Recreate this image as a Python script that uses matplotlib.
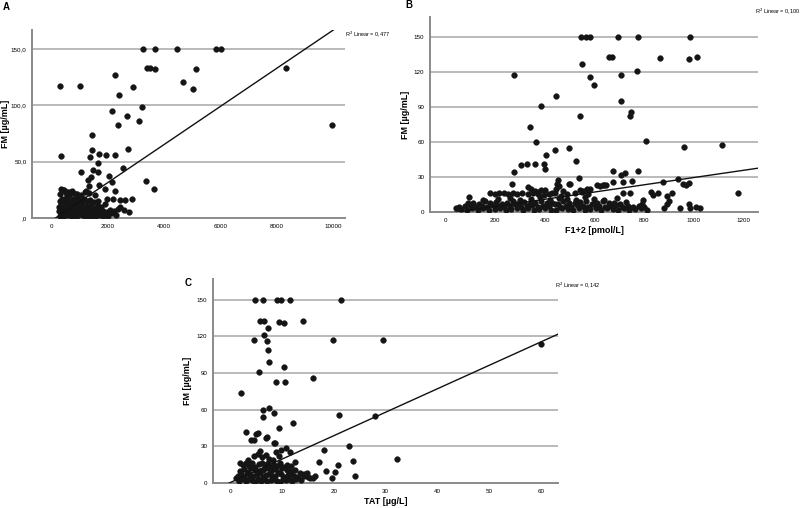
import matplotlib
matplotlib.use("Agg")
import matplotlib.pyplot as plt
import numpy as np

plt.rcParams['font.family'] = ['Liberation Sans', 'DejaVu Sans']

# ---------------- Panel A: FM vs x (no x title) ----------------
a_out_x = [3270, 3705, 4472, 5841, 6042, 3387, 3528, 3682, 5133, 8319, 2266, 330, 1027,
           2915, 4685, 5039, 2407, 3210, 2148, 2679, 3115, 2384, 9959, 1454, 1465, 2714,
           1690, 1940, 2254, 344, 1392, 1655, 2542, 1053, 1667, 3369, 3652, 2046, 2152,
           1478, 1323, 1430, 1241, 1359, 1702, 1926, 2270, 1975, 2200, 2450, 2620, 2860,
           2450, 2600, 2750, 344, 450, 560, 638, 790, 911]
a_out_y = [150, 150, 150, 150, 150, 133, 133, 132, 132, 133, 127, 117, 117,
           116, 121, 115, 109, 99, 95, 91, 86, 83, 83, 74, 60, 61,
           57, 56, 56, 55, 54, 49, 44, 41, 41, 33, 25.5, 37, 32,
           43, 34, 36, 24, 28.5, 29, 25.5, 24, 16.6, 16.6, 16, 16, 16.6,
           9.5, 7, 5.6, 26, 24.5, 23.4, 23, 22, 21.5]
a_cl_x = [310, 380, 450, 520, 600, 680, 760, 850, 930, 1010, 1100, 1190, 1280, 1370, 1460,
          1550, 1640, 1740, 1830, 1920, 2010, 2150, 2300,
          290, 360, 430, 500, 570, 650, 720, 800, 880, 960, 1040, 1120, 1210, 1300, 1390,
          1480, 1570, 1660, 1760, 1860, 1970, 2100, 2240, 2380,
          300, 350, 420, 490, 560, 630, 700, 780, 860, 940, 1020, 1110, 1200, 1290, 1380,
          1470, 1560, 1660, 1780, 1900,
          320, 400, 470, 540, 610, 690, 770, 850, 930, 1010, 1090, 1180, 1280, 1400, 1520, 1650,
          330, 410, 520, 640, 760, 900, 1060, 1200, 1350, 1550]
a_cl_y = [2, 3, 1.5, 4, 2.5, 3.5, 1, 3, 2, 4.5, 2.5, 1.5, 3, 2, 4,
          1, 3, 2.5, 1.5, 3, 2, 4, 3,
          6, 5, 7.5, 6, 5.5, 8, 6.5, 5, 7, 6, 8, 5.5, 7, 6, 5,
          7.5, 6, 5, 7, 6, 5.5, 7, 6, 8,
          10, 12, 9, 11, 13, 10, 12, 9.5, 11, 13, 10, 12, 9, 11, 10,
          13, 9, 11, 10, 12,
          15, 17, 14, 18, 16, 14.5, 17, 15, 19, 16, 14, 17, 15, 16, 14, 15,
          21, 25, 22, 20, 24, 21, 20, 23, 22, 20]
a_fit = (-2.7, 0.01695)
a_r2 = "R$^2$ Linear = 0,477"

# ---------------- Panel B: FM vs F1+2 ----------------
b_out_x = [546, 565, 582, 694, 777, 983, 550, 660, 671, 862, 980, 1015, 274, 581, 707, 773,
           597, 445, 384, 708, 540, 749, 742, 340, 364, 806, 499, 442, 1113, 962, 405, 360,
           327, 304, 398, 402, 524, 277, 676, 706, 722, 777, 539, 937, 499, 267, 750, 714,
           673, 454, 448, 640, 648, 982, 875, 958, 968, 1177, 610, 622, 635, 582, 716, 743,
           829, 857, 837, 911, 891, 899, 891, 880, 945, 982, 985, 1008, 1025, 797, 790, 95]
b_out_y = [150, 150, 150, 150, 150, 150, 127, 133, 133, 132, 131, 133, 117, 116, 117, 121,
           109, 99, 91, 95, 82, 86, 82, 73, 60, 61, 55, 53, 57, 56, 49, 41,
           41, 40, 41, 37, 44, 34, 35, 32, 33, 35, 29, 28, 24, 24, 26.8, 25.4,
           26, 27, 24, 23, 23, 25, 25.4, 23.7, 22.9, 16.5, 23, 22.5, 23.5, 19.7, 16, 16,
           16.9, 16, 14.3, 16, 14, 9.4, 6.6, 3.2, 3.2, 6.9, 3.7, 4.6, 3.2, 10.3, 6.9, 12.6]
b_cl_x = [40, 62, 85, 108, 130, 152, 175, 197, 220, 243, 265, 288, 310, 333, 356, 378, 401,
          424, 446, 469, 492, 514, 537, 560, 582, 605, 628, 650, 673, 696, 718, 741, 764, 786, 812,
          55, 78, 100, 122, 145, 168, 190, 213, 236, 258, 281, 304, 326, 349, 371, 394, 417,
          439, 462, 485, 507, 530, 553, 575, 598, 620, 643, 666, 688, 711, 734, 757, 780, 800,
          90, 112, 135, 158, 180, 203, 226, 248, 271, 294, 316, 339, 362, 384, 407, 430, 452,
          475, 498, 520, 543, 566, 588, 611, 634, 657, 680, 703, 726,
          150, 210, 260, 300, 345, 380, 420, 455, 490, 525, 560, 600, 640, 690,
          180, 198, 216, 234, 252, 270, 288, 306, 330, 352, 372, 395, 418, 440, 465, 490, 520,
          548, 575,
          330, 345, 360, 372, 385, 400, 430, 445, 455, 475, 500, 540, 555, 570]
b_cl_y = [3, 2.5, 1.5, 3, 2, 3.5, 1.5, 2.5, 3, 1.5, 2.5, 3.5, 2, 3, 1.5, 2.5, 3,
          2, 1.5, 3, 2.5, 2, 3.5, 1.5, 2.5, 3, 2, 3.5, 2.5, 1.5, 3, 2, 2.5, 3.5, 2,
          4.5, 5, 6, 4, 5.5, 4.5, 6, 5, 4, 5.5, 6.5, 4.5, 5, 6, 4, 5.5, 5,
          6.5, 4.5, 5.5, 4, 6, 5, 4.5, 6.5, 5, 4, 5.5, 6, 4.5, 5, 4, 5.5, 4.5,
          7.5, 8, 7, 9, 7.5, 8.5, 7, 8, 9.5, 7.5, 8.5, 7, 8, 9.5, 7.5, 8, 7,
          9, 8, 7.5, 8.5, 9, 7, 8, 9.5, 7.5, 8, 7, 8.5,
          10.5, 11, 12, 10, 11.5, 13, 10.5, 12, 11, 10, 12.5, 11, 10.5, 12,
          16, 15.5, 16, 16.5, 15.5, 16, 15, 16, 15.5, 16, 15, 14.5, 15.5, 16, 14, 15, 16,
          17, 15,
          21, 19.5, 18, 17.5, 18.5, 19, 16.5, 20, 22, 18, 24, 19, 18, 20]
b_fit = (-1.5, 0.031)
b_r2 = "R$^2$ Linear = 0,100"

# ---------------- Panel C: FM vs TAT ----------------
c_out_x = [4.8, 6.3, 9.1, 9.8, 11.6, 21.4, 5.7, 6.6, 9.5, 10.4, 14.0, 7.3, 6.5, 4.6, 7.1,
           19.8, 29.6, 60.0, 7.4, 7.5, 10.5, 5.5, 16.0, 8.9, 10.6, 2.1, 6.4, 7.5, 6.3, 8.5,
           12.2, 21.1, 27.9, 3.0, 5.3, 5.0, 9.5, 4.0, 4.6, 7.0, 7.2, 8.4, 8.6, 10.8, 11.5,
           9.9, 18.1, 23.0, 12.5, 17.1, 23.7, 32.2, 20.8, 18.5, 20.3, 19.6, 24.2, 16.4, 14.8,
           13.5, 14.2, 15.0, 15.5, 16.0]
c_out_y = [150, 150, 150, 150, 150, 150, 133, 133, 132, 131, 133, 127, 121, 117, 116,
           117, 117, 114, 109, 99, 95, 91, 86, 83, 83, 74, 60, 61, 54, 57,
           49, 56, 55, 42, 41, 40.5, 45, 35, 35.5, 37, 38, 33, 32.5, 29, 25,
           27, 27, 30, 17, 17, 18, 19.5, 15, 10, 8.7, 4, 5.4, 5.4, 8,
           8, 6, 5, 4, 4.5]
c_cl_x = [1.2, 1.8, 2.4, 3.0, 3.6, 4.2, 4.8, 5.4, 6.0, 6.6, 7.2, 7.8, 8.4, 9.0, 9.6, 10.2,
          10.8, 11.4, 12.0, 12.8, 13.6,
          1.5, 2.1, 2.7, 3.3, 3.9, 4.5, 5.1, 5.7, 6.3, 6.9, 7.5, 8.1, 8.7, 9.3, 9.9, 10.5,
          11.1, 11.7, 12.4, 13.2, 14.2,
          1.9, 2.6, 3.4, 4.1, 4.9, 5.6, 6.4, 7.1, 7.9, 8.6, 9.4, 10.1, 10.9, 11.8, 12.6,
          2.0, 2.5, 3.1, 3.7, 4.3, 4.9, 5.5, 6.1, 6.7, 7.3, 7.9, 8.5, 9.1, 9.7, 10.3, 11.0, 11.8,
          3.5, 4.6, 5.3, 5.8, 6.2, 7.0, 7.6, 8.3, 8.9, 9.5]
c_cl_y = [4, 2, 3.5, 1.5, 3, 2.5, 1, 3.5, 2, 3, 1.5, 2.5, 3.5, 2, 1, 3,
          2.5, 3.5, 2, 3, 2.5,
          6, 7.5, 5, 8, 6.5, 5.5, 7, 8, 5, 6.5, 7.5, 5.5, 6, 8, 7, 5,
          6.5, 7.5, 6, 5, 7,
          10, 11.5, 9, 12, 10.5, 9.5, 11, 12.5, 10, 11.5, 9, 12, 10.5, 9.5, 11,
          16, 15, 16.5, 14, 16, 13.5, 15.5, 16.5, 14.5, 16, 13, 15, 14, 16.5, 13.5, 15, 14,
          19, 22, 24, 26, 21, 23, 20, 18.5, 25, 22]
c_fit = (0.3, 1.92)
c_r2 = "R$^2$ Linear = 0,142"

W, H = 800, 508
fig = plt.figure(figsize=(W / 100, H / 100), dpi=100)


def px_axes(l, t, r, b):
    return fig.add_axes([l / W, 1 - b / H, (r - l) / W, (b - t) / H])


def panel(ax, xs, ys, fit, xlim, yticks, ytl, xticks, xlabel, r2, ylab_x, xlab_y, r2_pos):
    ax.set_xlim(*xlim)
    ax.set_ylim(0, 167)
    for yt in yticks[1:]:
        ax.axhline(yt, color='#b4b4b4', lw=1.3, zorder=1)
    ax.scatter(xs, ys, s=17, color='#151515', edgecolors='#151515', linewidths=0.3, zorder=3)
    xx = np.array(xlim)
    ax.plot(xx, fit[0] + fit[1] * xx, color='#111111', lw=1.0, zorder=4)
    for s in ['top', 'right']:
        ax.spines[s].set_visible(False)
    for s in ['left', 'bottom']:
        ax.spines[s].set_color('#8a8a8a')
        ax.spines[s].set_linewidth(1.4)
    ax.set_yticks(yticks)
    ax.set_yticklabels(ytl)
    ax.set_xticks(xticks)
    ax.set_xticklabels([str(v) for v in xticks])
    ax.tick_params(length=0, labelsize=4.5, pad=4)
    ax.set_ylabel('FM [µg/mL]', fontsize=6.5, fontweight='bold')
    ax.yaxis.set_label_coords(ylab_x, 0.5)
    if xlabel:
        ax.set_xlabel(xlabel, fontsize=6.5, fontweight='bold', va='center')
        ax.xaxis.set_label_coords(0.5, xlab_y)
    ax.text(r2_pos[0], r2_pos[1], r2, transform=ax.transAxes, fontsize=4, ha='left', va='center')


axA = px_axes(32, 30, 345, 218)
panel(axA, a_out_x + a_cl_x, a_out_y + a_cl_y, a_fit, (-674, 10426),
      [0, 50, 100, 150], [',0', '50,0', '100,0', '150,0'],
      [0, 2000, 4000, 6000, 8000, 10000], None, a_r2, -0.085, None, (1.0, 0.98))
axA.yaxis.label.set_va('center')

axB = px_axes(430, 17, 758, 212)
panel(axB, b_out_x + b_cl_x, b_out_y + b_cl_y, b_fit, (-63, 1259),
      [0, 30, 60, 90, 120, 150], ['0', '30', '60', '90', '120', '150'],
      [0, 200, 400, 600, 800, 1000, 1200], 'F1+2 [pmol/L]', b_r2, -0.062, -0.094, (0.99, 1.03))

axC = px_axes(213, 279, 558, 483)
panel(axC, c_out_x + c_cl_x, c_out_y + c_cl_y, c_fit, (-3.3, 63.3),
      [0, 30, 60, 90, 120, 150], ['0', '30', '60', '90', '120', '150'],
      [0, 10, 20, 30, 40, 50, 60], 'TAT [µg/L]', c_r2, -0.062, -0.092, (0.99, 0.97))

fig.text(3 / W, 1 - 7 / H, 'A', fontsize=7, fontweight='bold', va='center')
fig.text(405 / W, 1 - 5 / H, 'B', fontsize=7, fontweight='bold', va='center')
fig.text(185 / W, 1 - 283 / H, 'C', fontsize=7, fontweight='bold', va='center')

fig.savefig('out.png', dpi=100)
